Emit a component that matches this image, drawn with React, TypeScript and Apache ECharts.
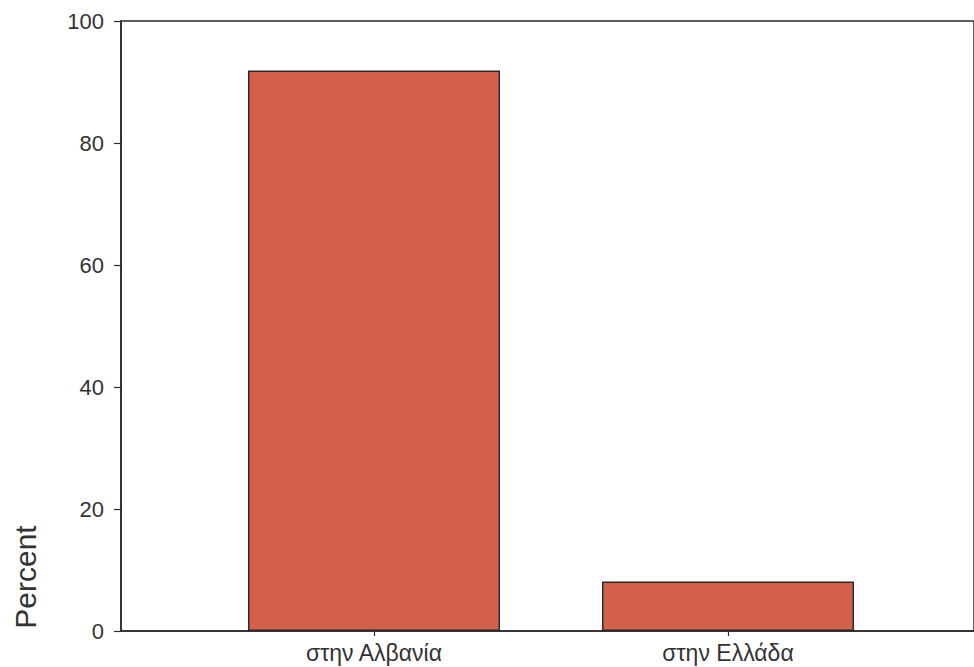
import React, { useEffect, useRef } from "react";
import * as echarts from "echarts";

const categories = ["στην Αλβανία", "στην Ελλάδα"];
const percentValues = [91.9, 8.1];
const yTicks = { min: 0, max: 100, interval: 20 };
const axisTitle = "Percent";

export default function App() {
  const ref = useRef<HTMLDivElement>(null);
  useEffect(() => {
    if (!ref.current) return;
    const chart = echarts.init(ref.current, undefined, { renderer: "svg" });
    const font = "'Liberation Sans', Arial, sans-serif";
    chart.setOption({
      animation: false,
      backgroundColor: "#ffffff",
      grid: [
        { left: 121, right: -4, top: 21, bottom: 36, show: true, borderColor: "#2a2a2a", borderWidth: 1.5, backgroundColor: "transparent" },
        { left: 197, width: 708, top: 21, bottom: 36 },
      ],
      xAxis: [
        {
          gridIndex: 0, type: "value", min: 0, max: 1,
          axisLine: { show: true, lineStyle: { color: "#2a2a2a", width: 1.5 } },
          axisTick: { show: false }, axisLabel: { show: false }, splitLine: { show: false },
        },
        {
          gridIndex: 1, type: "category", data: categories,
          axisLine: { show: false },
          axisTick: { show: true, alignWithLabel: true, length: 5, lineStyle: { color: "#2a2a2a", width: 1.2 } },
          axisLabel: { fontSize: 23, color: "#333", fontFamily: font, margin: 10 },
        },
      ],
      yAxis: [
        {
          gridIndex: 0, type: "value", min: yTicks.min, max: yTicks.max, interval: yTicks.interval,
          axisLine: { show: true, lineStyle: { color: "#2a2a2a", width: 1.5 } },
          axisTick: { show: true, length: 7, lineStyle: { color: "#2a2a2a", width: 1.2 } },
          axisLabel: { fontSize: 22, color: "#333", fontFamily: font, margin: 17 },
          splitLine: { show: false },
        },
        { gridIndex: 1, type: "value", min: yTicks.min, max: yTicks.max, show: false },
      ],
      graphic: [
        {
          type: "text", x: 25, y: 577, rotation: Math.PI / 2,
          style: { text: axisTitle, fontSize: 30, fill: "#333", fontFamily: font, align: "center", verticalAlign: "middle" },
        },
      ],
      series: [
        {
          type: "bar", xAxisIndex: 1, yAxisIndex: 1, data: percentValues,
          barWidth: 252,
          itemStyle: { color: "#d4604a", borderColor: "#2b2b2b", borderWidth: 1.5 },
        },
      ],
    });
    return () => chart.dispose();
  }, []);
  return <div ref={ref} style={{ position: "fixed", left: 0, top: 0, width: 974, height: 667 }} />;
}
